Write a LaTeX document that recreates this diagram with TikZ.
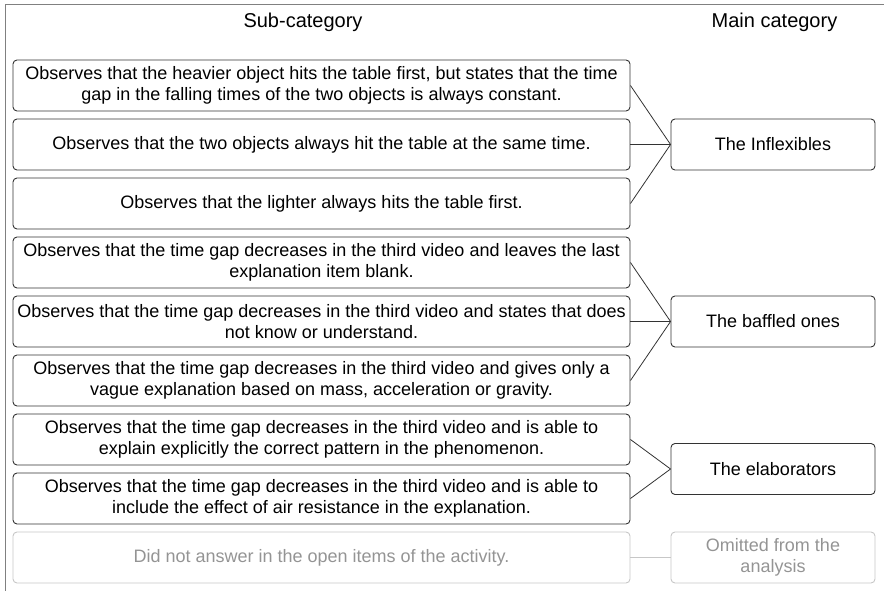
\documentclass[tikz,border=0pt]{standalone}
\usepackage{fontspec}
\setmainfont{Liberation Sans}
\begin{document}
\begin{tikzpicture}[x=1pt,y=-1pt,
  sub/.style={draw=black!80, line width=0.9pt, rounded corners=4pt, minimum width=617pt, minimum height=51pt, align=center, inner sep=0pt, font=\fontsize{18}{21.5}\selectfont},
  mainc/.style={draw=black!80, line width=0.9pt, rounded corners=4pt, minimum width=204pt, minimum height=51pt, align=center, inner sep=0pt, font=\fontsize{18}{21.5}\selectfont},
  omit/.style={draw=black!22, text=black!42},
  link/.style={draw=black!80, line width=0.8pt},
  head/.style={font=\fontsize{20}{24}\selectfont, inner sep=0pt}]
\useasboundingbox (0,0) rectangle (884,591);
\draw[black!50, line width=1pt] (5,591) -- (5,5) -- (884,5);
\node[head] (h1) at (303,22) {Sub-category};
\node[head] (h2) at (774.5,22) {Main category};
\node[sub] (s1) at (321.5,85.5) {Observes that the heavier object hits the table first, but states that the time\\gap in the falling times of the two objects is always constant.};
\node[sub] (s2) at (321.5,144.5) {Observes that the two objects always hit the table at the same time.};
\node[sub] (s3) at (321.5,203.5) {Observes that the lighter always hits the table first.};
\node[sub] (s4) at (321.5,262.5) {Observes that the time gap decreases in the third video and leaves the last\\explanation item blank.};
\node[sub] (s5) at (321.5,321.5) {Observes that the time gap decreases in the third video and states that does\\not know or understand.};
\node[sub] (s6) at (321.5,380.5) {Observes that the time gap decreases in the third video and gives only a\\vague explanation based on mass, acceleration or gravity.};
\node[sub] (s7) at (321.5,439.5) {Observes that the time gap decreases in the third video and is able to\\explain explicitly the correct pattern in the phenomenon.};
\node[sub] (s8) at (321.5,498.5) {Observes that the time gap decreases in the third video and is able to\\include the effect of air resistance in the explanation.};
\node[sub,omit] (s9) at (321.5,557.5) {Did not answer in the open items of the activity.};
\node[mainc] (m1) at (773,144.5) {The Inflexibles};
\node[mainc] (m2) at (773,321.5) {The baffled ones};
\node[mainc] (m3) at (773,469) {The elaborators};
\node[mainc,omit] (m4) at (773,557.5) {Omitted from the\\analysis};
\draw[link] (s1.east) -- (m1.west);
\draw[link] (s2.east) -- (m1.west);
\draw[link] (s3.east) -- (m1.west);
\draw[link] (s4.east) -- (m2.west);
\draw[link] (s5.east) -- (m2.west);
\draw[link] (s6.east) -- (m2.west);
\draw[link] (s7.east) -- (m3.west);
\draw[link] (s8.east) -- (m3.west);
\draw[link,draw=black!22] (s9.east) -- (m4.west);
\end{tikzpicture}
\end{document}
